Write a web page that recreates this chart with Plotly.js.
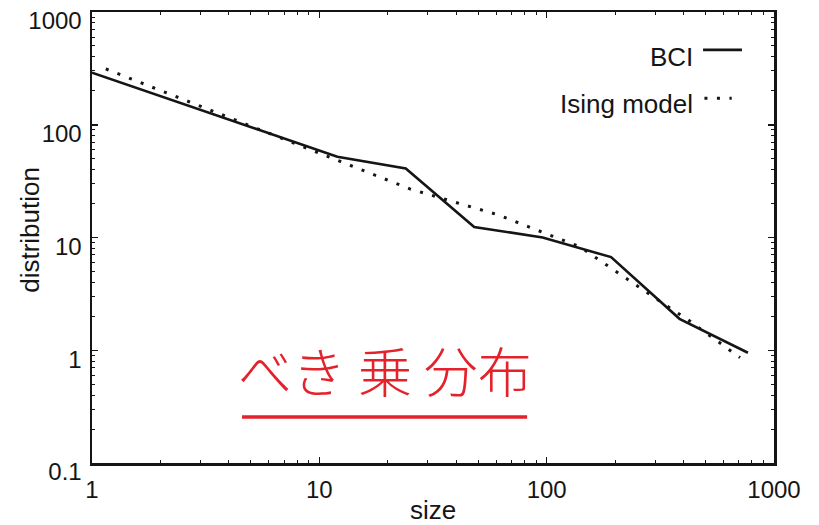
<!DOCTYPE html>
<html>
<head>
<meta charset="utf-8">
<script src="https://cdn.plot.ly/plotly-3.0.1.min.js"></script>
<style>html,body{margin:0;padding:0;background:#fff;}#chart{width:819px;height:525px;}</style>
</head>
<body>
<div id="chart"></div>
<script>
// BCI distribution (solid line)
const bciSize = [1, 3, 6, 12, 24, 48, 96, 192, 384, 768];
const bciDist = [290, 136, 84, 52, 41, 12.4, 10, 6.7, 1.9, 0.95];
// Ising model (dotted line)
const isingSize = [1.15, 3.55, 10.6, 25, 61, 140, 332, 419, 709];
const isingDist = [313, 127, 53, 27, 15.9, 8.26, 2.53, 1.86, 0.86];
// Tick labels
const xTickVals = [1, 10, 100, 1000];
const xTickText = ["1", "10", "100", "1000"];
const yTickVals = [0.1, 1, 10, 100, 1000];
const yTickText = ["0.1", "1", "10", "100", "1000"];
const seriesNames = ["BCI", "Ising model"];
const xTitle = "size";
const yTitle = "distribution";
const noteText = "べき 乗 分布";

const ink = "#151515";
const font = "Liberation Sans, Arial, sans-serif";

const traces = [
  {x: bciSize, y: bciDist, name: seriesNames[0], type: "scatter", mode: "lines",
   line: {color: ink, width: 2.6}},
  {x: isingSize, y: isingDist, name: seriesNames[1], type: "scatter", mode: "lines",
   line: {color: ink, width: 3, dash: "3px,9.5px"}}
];

const axisCommon = {
  type: "log", showline: true, linecolor: ink, linewidth: 2.5, mirror: "allticks",
  ticks: "inside", ticklen: 6, tickwidth: 1.5, tickcolor: ink, showgrid: false, zeroline: false,
  tickfont: {family: font, size: 24, color: ink}, tickmode: "array",
  minor: {ticks: "inside", ticklen: 3, tickwidth: 1, tickcolor: ink, dtick: "D1", showgrid: false}
};

const layout = {
  width: 819, height: 525,
  margin: {l: 92, r: 45, t: 12, b: 62},
  paper_bgcolor: "#fff", plot_bgcolor: "#fff",
  showlegend: false,
  xaxis: Object.assign({}, axisCommon, {
    range: [0, 3], tickvals: xTickVals, ticktext: xTickText, ticklabelstandoff: 4,
    title: {text: xTitle, font: {family: font, size: 26, color: ink}, standoff: 6}
  }),
  yaxis: Object.assign({}, axisCommon, {
    range: [-1, 3], tickvals: yTickVals, ticktext: yTickText, ticklabelshift: 9, ticklabelstandoff: 3
  }),
  annotations: [
    {text: yTitle, xref: "paper", yref: "paper", x: -0.091, y: 0.517, xanchor: "center", yanchor: "middle",
     textangle: -90, showarrow: false, font: {family: font, size: 26, color: ink}},
    {text: seriesNames[0], xref: "paper", yref: "paper", x: 0.884, y: 0.900, xanchor: "right", yanchor: "middle",
     showarrow: false, font: {family: font, size: 26, color: ink}},
    {text: seriesNames[1], xref: "paper", yref: "paper", x: 0.884, y: 0.795, xanchor: "right", yanchor: "middle",
     showarrow: false, font: {family: font, size: 26, color: ink}},
    {text: noteText, xref: "paper", yref: "paper", x: 0.43, y: 0.207, xanchor: "center", yanchor: "middle",
     showarrow: false, font: {family: "Noto Sans CJK JP", size: 54, weight: 300, color: "#e3222c"}}
  ],
  shapes: [
    {type: "line", xref: "paper", yref: "paper", x0: 0.896, x1: 0.953, y0: 0.916, y1: 0.916,
     line: {color: ink, width: 2.6}},
    {type: "line", xref: "paper", yref: "paper", x0: 0.898, x1: 0.938, y0: 0.809, y1: 0.809,
     line: {color: ink, width: 3, dash: "3px,9.5px"}},
    {type: "line", xref: "paper", yref: "paper", x0: 0.22, x1: 0.638, y0: 0.102, y1: 0.102,
     line: {color: "#e3222c", width: 3.5}}
  ]
};

Plotly.newPlot("chart", traces, layout, {staticPlot: true, displayModeBar: false});
</script>
</body>
</html>
